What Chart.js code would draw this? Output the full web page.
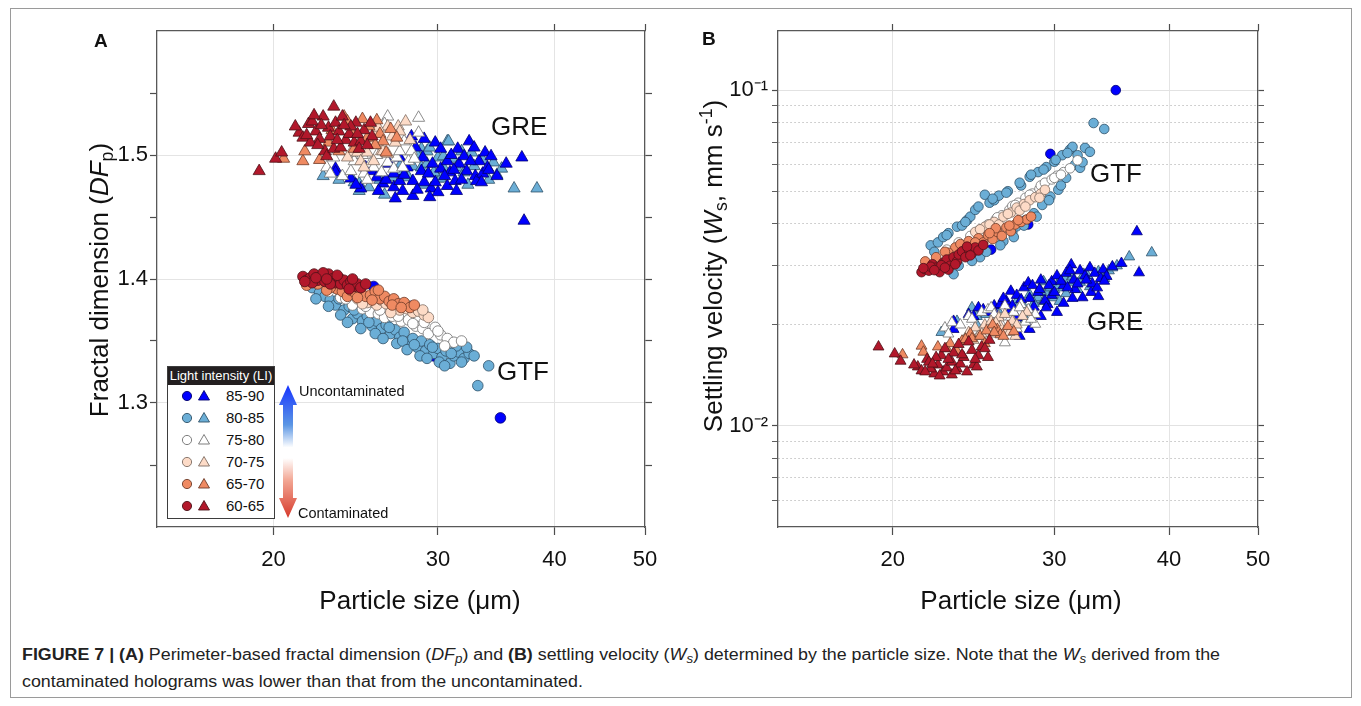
<!DOCTYPE html>
<html>
<head>
<meta charset="utf-8">
<script src="https://cdn.jsdelivr.net/npm/chart.js@4.4.1/dist/chart.umd.min.js"></script>
<style>
  body { margin: 0; background: #fff; font-family: "Liberation Sans", Arial, sans-serif; }
  #fig { position: relative; width: 1361px; height: 706px; overflow: hidden; background: #fff; }
  canvas { position: absolute; }
  .frame { position: absolute; left: 10px; top: 8px; width: 1340px; height: 688px; border: 1px solid #9a9a9a; }
  .t { position: absolute; white-space: nowrap; line-height: 1; color: #111; }
  .rot { transform: translate(-50%, -50%) rotate(-90deg); }
  .ttl { font-size: 26px; }
  .grp { font-size: 26px; }
  .pl { font-size: 19px; font-weight: bold; }
  sub, sup { font-size: 0.68em; line-height: 0; }
  sub { vertical-align: -0.28em; }
  sup { vertical-align: 0.55em; }
  #legend { position: absolute; left: 167px; top: 366px; width: 106px; height: 151px; border: 1px solid #3d3d3d; background: #fff; }
  #legend .hd { height: 18px; background: #231f20; color: #fff; font-size: 13px; line-height: 18px; text-align: center; white-space: nowrap; }
  #legend .lb { position: absolute; left: 58px; font-size: 15px; line-height: 1; color: #111; }
  .cap { position: absolute; left: 22px; font-family: "Liberation Sans Narrow", "Arial Narrow", "Liberation Sans", sans-serif; font-size: 16px; line-height: 1; color: #222; white-space: nowrap; transform-origin: 0 0; }
  .cap sub { font-size: 0.75em; }
</style>
</head>
<body>
<div id="fig">
  <div class="frame"></div>
  <canvas id="chartA" width="700" height="620" style="left:0;top:0"></canvas>
  <canvas id="chartB" width="620" height="620" style="left:690px;top:0"></canvas>

  <div class="t pl" style="left:94px;top:31px">A</div>
  <div class="t pl" style="left:702px;top:29px">B</div>

  <div class="t ttl rot" style="left:99px;top:280px">Fractal dimension (<i>DF</i><sub>p</sub>)</div>
  <div class="t ttl rot" style="left:713px;top:266px">Settling velocity (<i>W</i><sub>s</sub>, mm s<sup>-1</sup>)</div>
  <div class="t ttl" style="left:420px;top:587px;transform:translateX(-50%)">Particle size (μm)</div>
  <div class="t ttl" style="left:1021px;top:587px;transform:translateX(-50%)">Particle size (μm)</div>

  <div class="t grp" style="left:491px;top:113px">GRE</div>
  <div class="t grp" style="left:497px;top:358px">GTF</div>
  <div class="t grp" style="left:1090px;top:160px">GTF</div>
  <div class="t grp" style="left:1087px;top:308px">GRE</div>

  <div id="legend">
    <div class="hd">Light intensity (LI)</div>
    <svg id="legendMarks" width="56" height="134" style="position:absolute;left:0;top:18px"></svg>
  </div>

  <svg width="24" height="140" style="position:absolute;left:276px;top:382px">
    <defs>
      <linearGradient id="arrowGrad" x1="0" y1="0" x2="0" y2="1">
        <stop offset="0" stop-color="#1634ff"/>
        <stop offset="0.3" stop-color="#5b96e4"/>
        <stop offset="0.47" stop-color="#ffffff"/>
        <stop offset="0.55" stop-color="#ffffff"/>
        <stop offset="0.72" stop-color="#f2a592"/>
        <stop offset="1" stop-color="#d6392b"/>
      </linearGradient>
    </defs>
    <polygon fill="url(#arrowGrad)" points="12,3 3,23 7,23 7,116 3,116 12,136 21,116 17,116 17,23 21,23"/>
  </svg>
  <div class="t" style="left:299px;top:384px;font-size:14.5px">Uncontaminated</div>
  <div class="t" style="left:298px;top:506px;font-size:14.5px">Contaminated</div>

  <div class="cap" id="cap1" style="top:647px"><b>FIGURE 7 | (A)</b> Perimeter-based fractal dimension (<i>DF<sub>p</sub></i>) and <b>(B)</b> settling velocity (<i>W<sub>s</sub></i>) determined by the particle size. Note that the <i>W<sub>s</sub></i> derived from the</div>
  <div class="cap" id="cap2" style="top:674px">contaminated holograms was lower than that from the uncontaminated.</div>
</div>

<script>
// ---- data: [particle size (um), DFp, Ws (mm/s)] per light-intensity class ----
// GTF (circles)
const gtf60 = [[21.5,1.402,0.0287],[21.7,1.399,0.0293],[21.9,1.401,0.0290],[22.1,1.404,0.0303],[22.3,1.399,0.0296],
  [22.5,1.402,0.0287],[22.7,1.398,0.0306],[22.9,1.404,0.0313],[23.1,1.400,0.0300],[23.3,1.397,0.0318],[23.5,1.401,0.0309],
  [23.6,1.396,0.0324],[23.8,1.399,0.0331],[24.0,1.395,0.0318],[24.2,1.398,0.0336],[24.4,1.394,0.0327],[24.6,1.396,0.0340],
  [24.8,1.393,0.0333],[22.0,1.397,0.0298],[23.0,1.396,0.0292],[24.1,1.392,0.0342],[22.6,1.405,0.0301],
  [21.6,1.398,0.0295],[22.2,1.401,0.0291],[22.8,1.400,0.0296],[23.4,1.403,0.0303],[24.3,1.400,0.0322],[25.1,1.396,0.0346]];
const gtf65 = [[21.7,1.395,0.0309],[23.4,1.392,0.0340],[23.7,1.390,0.0348],[24.0,1.386,0.0335],[24.2,1.391,0.0355],
  [24.5,1.388,0.0344],[24.8,1.389,0.0362],[25.1,1.386,0.0352],[25.4,1.387,0.0370],[25.7,1.390,0.0360],[26.0,1.384,0.0378],
  [26.3,1.386,0.0368],[26.6,1.382,0.0390],[26.9,1.384,0.0380],[27.2,1.380,0.0398],[27.6,1.381,0.0405],[28.0,1.377,0.0412],
  [28.3,1.379,0.0420],[25.9,1.391,0.0388],[23.0,1.393,0.0328],
  [22.3,1.396,0.0318],[22.8,1.391,0.0330],[24.6,1.385,0.0352],[25.5,1.383,0.0375],[26.8,1.379,0.0395],[27.4,1.377,0.0410]];
const gtf70 = [[24.6,1.384,0.0378],[25.2,1.381,0.0392],[25.8,1.379,0.0405],[26.1,1.383,0.0398],[26.4,1.380,0.0420],
  [26.9,1.377,0.0432],[27.3,1.375,0.0447],[27.5,1.379,0.0438],[27.8,1.376,0.0458],[28.2,1.373,0.0470],[28.6,1.374,0.0480],
  [29.0,1.371,0.0492],[29.3,1.369,0.0505],
  [24.9,1.380,0.0385],[25.5,1.384,0.0398],[26.7,1.373,0.0428],[27.9,1.378,0.0450],[28.9,1.375,0.0478]];
const gtf75 = [[22.9,1.390,0.0335],[23.6,1.385,0.0352],[24.3,1.379,0.0368],[24.9,1.376,0.0385],[25.4,1.373,0.0398],
  [25.9,1.372,0.0412],[26.3,1.369,0.0424],[26.8,1.370,0.0440],[27.0,1.373,0.0452],[27.4,1.366,0.0462],[27.9,1.367,0.0478],
  [28.4,1.362,0.0492],[28.9,1.360,0.0508],[29.0,1.365,0.0520],[29.3,1.356,0.0530],[29.8,1.361,0.0542],[30.2,1.355,0.0556],
  [30.7,1.352,0.0570],[31.2,1.349,0.0585],[31.8,1.350,0.0618],
  [23.9,1.384,0.0345],[25.1,1.378,0.0380],[26.0,1.375,0.0418],[27.2,1.370,0.0455],[28.2,1.364,0.0488],[30.0,1.358,0.0548],[30.5,1.346,0.0560]];
const gtf80 = [[22.0,1.393,0.0345],[22.4,1.389,0.0352],[22.7,1.386,0.0365],[23.0,1.383,0.0375],[23.3,1.379,0.0283],
  [23.5,1.384,0.0392],[23.8,1.375,0.0395],[24.1,1.378,0.0410],[24.3,1.368,0.0420],[24.6,1.372,0.0440],[24.9,1.366,0.0318],
  [25.2,1.370,0.0488],[25.5,1.362,0.0462],[25.8,1.366,0.0470],[26.1,1.360,0.0485],[26.4,1.363,0.0355],[26.7,1.356,0.0500],
  [27.0,1.359,0.0378],[27.3,1.353,0.0393],[27.6,1.357,0.0520],[27.9,1.349,0.0410],[28.2,1.352,0.0552],[28.5,1.345,0.0430],
  [28.8,1.350,0.0570],[29.1,1.342,0.0455],[29.4,1.347,0.0590],[29.7,1.340,0.0482],[30.0,1.344,0.0612],[30.3,1.337,0.0505],
  [30.6,1.342,0.0640],[30.9,1.332,0.0548],[31.2,1.338,0.0665],[31.6,1.341,0.0600],[32.0,1.336,0.0587],[32.4,1.340,0.0673],
  [31.4,1.346,0.0678],[32.8,1.338,0.0655],[33.1,1.314,0.0798],[34.0,1.330,0.0766],
  [22.2,1.384,0.0330],[22.9,1.378,0.0370],[23.6,1.371,0.0300],[24.0,1.365,0.0405],[24.4,1.375,0.0310],[24.8,1.360,0.0450],
  [25.3,1.365,0.0330],[25.7,1.356,0.0475],[26.2,1.352,0.0345],[26.6,1.361,0.0495],[27.1,1.348,0.0365],[27.5,1.350,0.0530],
  [27.8,1.343,0.0395],[28.3,1.347,0.0560],[28.7,1.338,0.0420],[29.2,1.336,0.0580],[29.6,1.345,0.0470],[30.1,1.333,0.0620],
  [30.5,1.330,0.0520],[31.0,1.340,0.0650],[31.8,1.333,0.0640],[32.2,1.345,0.0610]];
const gtf85 = [[25.6,1.394,0.0335],[28.1,1.378,0.0398],[29.7,1.338,0.0646],[35.0,1.288,0.1000]];

// GRE (triangles)
const gre60 = [[19.3,1.487,0.0172],[20.1,1.497,0.0164],[20.4,1.502,0.0156],[21.3,1.518,0.0150],[21.5,1.514,0.0146],
  [21.8,1.525,0.0158],[22.2,1.519,0.0143],[22.4,1.513,0.0152],[22.6,1.531,0.0162],[22.7,1.503,0.0145],[22.8,1.499,0.0170],
  [22.9,1.522,0.0149],[23.2,1.539,0.0155],[23.2,1.505,0.0142],[23.3,1.526,0.0165],[23.5,1.519,0.0148],[23.6,1.506,0.0175],
  [23.7,1.531,0.0153],[23.9,1.512,0.0160],[24.1,1.517,0.0145],[24.4,1.510,0.0168],[24.5,1.526,0.0152],[24.8,1.511,0.0162],
  [25.0,1.520,0.0172],[25.4,1.526,0.0160],[25.5,1.515,0.0180],[21.9,1.510,0.0155],[22.0,1.527,0.0148],[23.0,1.515,0.0158],
  [24.2,1.523,0.0178],[24.7,1.505,0.0150],[21.1,1.523,0.0152],
  [21.7,1.516,0.0145],[22.3,1.508,0.0160],[22.5,1.524,0.0141],[23.4,1.512,0.0146],[23.8,1.524,0.0163],[24.6,1.517,0.0158],
  [25.2,1.508,0.0170],[22.1,1.532,0.0153]];
const gre65 = [[20.5,1.497,0.0163],[21.5,1.495,0.0173],[21.6,1.503,0.0166],[23.5,1.503,0.0167],[23.8,1.531,0.0179],
  [24.3,1.517,0.0188],[24.4,1.505,0.0182],[24.9,1.529,0.0185],[25.2,1.514,0.0176],[25.3,1.523,0.0192],[26.0,1.517,0.0194],
  [26.2,1.511,0.0187],[26.7,1.521,0.0198],[27.1,1.514,0.0191],[22.9,1.510,0.0170],[25.7,1.508,0.0200],
  [22.4,1.496,0.0172],[23.1,1.520,0.0176],[24.0,1.527,0.0181],[25.8,1.528,0.0190],[26.4,1.502,0.0185]];
const gre70 = [[24.2,1.502,0.0190],[24.6,1.502,0.0196],[24.8,1.495,0.0185],[25.2,1.502,0.0200],[25.6,1.510,0.0193],
  [25.6,1.495,0.0205],[25.7,1.517,0.0188],[26.1,1.503,0.0210],[26.2,1.503,0.0198],[26.5,1.523,0.0192],[26.5,1.501,0.0215],
  [27.0,1.510,0.0205],[27.2,1.523,0.0185],[27.3,1.519,0.0200],[28.0,1.512,0.0218],[24.0,1.498,0.0182],
  [24.5,1.510,0.0180],[25.9,1.522,0.0203],[26.8,1.515,0.0190],[27.7,1.527,0.0212],[25.0,1.490,0.0188]];
const gre75 = [[22.8,1.490,0.0196],[23.2,1.498,0.0203],[23.7,1.483,0.0200],[24.2,1.487,0.0212],[24.4,1.495,0.0208],
  [25.0,1.485,0.0218],[25.4,1.493,0.0222],[25.6,1.490,0.0225],[26.1,1.486,0.0212],[26.5,1.531,0.0177],[26.5,1.494,0.0228],
  [26.9,1.489,0.0211],[27.1,1.498,0.0218],[27.3,1.503,0.0195],[27.6,1.511,0.0230],[27.9,1.495,0.0204],[28.1,1.503,0.0222],
  [28.6,1.518,0.0201],[28.6,1.530,0.0215],[24.9,1.500,0.0190],
  [23.0,1.485,0.0188],[25.8,1.500,0.0215],[26.3,1.525,0.0200],[27.5,1.490,0.0225],[28.3,1.497,0.0208],[25.2,1.480,0.0195]];
const gre80 = [[22.6,1.483,0.0190],[24.4,1.478,0.0225],[24.7,1.471,0.0212],[24.7,1.477,0.0200],[26.8,1.482,0.0218],
  [27.3,1.487,0.0235],[27.4,1.493,0.0227],[27.7,1.483,0.0230],[27.9,1.482,0.0208],[28.2,1.491,0.0246],[28.8,1.490,0.0238],
  [28.8,1.505,0.0241],[29.2,1.503,0.0235],[29.2,1.493,0.0269],[29.4,1.506,0.0250],[30.0,1.498,0.0241],[30.0,1.481,0.0255],
  [30.2,1.481,0.0262],[30.4,1.490,0.0235],[30.4,1.499,0.0270],[30.7,1.511,0.0258],[30.8,1.511,0.0275],[30.9,1.498,0.0248],
  [31.1,1.497,0.0268],[32.0,1.486,0.0268],[32.6,1.502,0.0280],[32.8,1.491,0.0260],[34.4,1.494,0.0290],[34.7,1.484,0.0296],
  [35.1,1.489,0.0300],[36.2,1.473,0.0319],[38.3,1.473,0.0328],
  [23.5,1.480,0.0205],[25.3,1.474,0.0215],[26.0,1.480,0.0222],[28.5,1.500,0.0232],[29.7,1.486,0.0258],[31.4,1.490,0.0278],
  [31.8,1.503,0.0255],[33.5,1.496,0.0288],[34.0,1.480,0.0275],[26.3,1.468,0.0230],[29.0,1.476,0.0252],[32.3,1.476,0.0283]];
const gre85 = [[23.3,1.489,0.0194],[23.3,1.486,0.0205],[24.2,1.481,0.0215],[24.8,1.473,0.0225],[25.5,1.487,0.0218],
  [25.8,1.482,0.0228],[26.2,1.477,0.0230],[26.6,1.493,0.0235],[26.9,1.474,0.0252],[26.9,1.485,0.0222],[27.3,1.498,0.0245],
  [27.3,1.479,0.0210],[27.5,1.471,0.0185],[27.8,1.490,0.0258],[28.1,1.515,0.0267],[28.2,1.467,0.0194],[28.2,1.479,0.0240],
  [28.4,1.506,0.0262],[28.8,1.487,0.0250],[29.0,1.513,0.0272],[29.0,1.478,0.0212],[29.5,1.473,0.0230],[29.8,1.510,0.0269],
  [29.8,1.478,0.0245],[30.2,1.505,0.0280],[30.2,1.489,0.0218],[30.7,1.495,0.0262],[30.7,1.475,0.0232],[30.9,1.486,0.0285],
  [31.3,1.479,0.0302],[31.4,1.471,0.0240],[31.5,1.505,0.0272],[31.6,1.493,0.0255],[32.0,1.499,0.0290],[32.2,1.487,0.0241],
  [32.4,1.511,0.0280],[32.8,1.506,0.0296],[32.9,1.483,0.0250],[33.0,1.479,0.0265],[33.2,1.495,0.0285],[33.5,1.485,0.0243],
  [33.7,1.502,0.0275],[33.9,1.490,0.0292],[34.2,1.499,0.0279],[34.7,1.483,0.0298],[36.9,1.498,0.0379],[37.1,1.447,0.0286],
  [24.5,1.476,0.0212],[25.1,1.490,0.0222],[25.9,1.471,0.0215],[26.4,1.480,0.0240],[27.0,1.465,0.0228],[27.6,1.484,0.0238],
  [28.5,1.472,0.0226],[28.9,1.498,0.0255],[29.3,1.485,0.0236],[29.6,1.493,0.0262],[30.0,1.470,0.0250],[30.5,1.483,0.0270],
  [31.0,1.500,0.0258],[31.8,1.480,0.0265],[32.5,1.495,0.0272],[33.4,1.478,0.0258],[34.0,1.488,0.0270],[35.5,1.493,0.0305],
  [29.4,1.466,0.0225],[31.2,1.488,0.0290]];

const classLabels = ['85-90', '80-85', '75-80', '70-75', '65-70', '60-65'];

const xTicks = [20, 30, 40, 50];
const dfTicks = [1.25, 1.3, 1.35, 1.4, 1.45, 1.5, 1.55];
const dfLabeled = [1.3, 1.4, 1.5];
const wsTicks = [0.006, 0.007, 0.008, 0.009, 0.01, 0.02, 0.03, 0.04, 0.05, 0.06, 0.07, 0.08, 0.09, 0.1];
const wsLabeled = [0.01, 0.1];
const wsLabelText = ['10\u207B\u00B2', '10\u207B\u00B9'];

// ---- styles ----
const FONT = '"Liberation Sans", Arial, sans-serif';
// index 0 = 60-65 ... 5 = 85-90
const fillCol = ['#b2182b', '#ef8a62', '#fddbc7', '#ffffff', '#6baed6', '#0000ff'];
const edgeCol = ['#4d1218', '#6e3b28', '#7d6c62', '#707070', '#2f5168', '#000070'];
const NONE = 'rgba(0,0,0,0)';
// draw order (first = on top): red classes on top, blue triangles above light blue
const triOrder = [0, 1, 2, 3, 5, 4];
const dotOrder = [0, 1, 2, 3, 4, 5];

function dataset(arr, yi, i, style, r) {
  return {
    data: arr.map(p => ({ x: p[0], y: p[yi] })),
    pointStyle: style,
    pointRadius: r,
    backgroundColor: fillCol[i],
    borderColor: edgeCol[i],
    borderWidth: 0.8,
    showLine: false
  };
}

function scale(o) {
  const major = o.major || (() => true);
  return {
    type: o.type, position: o.pos, min: o.min, max: o.max,
    afterBuildTicks: a => { a.ticks = o.ticks.map(v => ({ value: v })); },
    afterFit: a => { if (o.pos === 'top' || o.pos === 'bottom') a.height = o.size; else a.width = o.size; },
    grid: {
      drawOnChartArea: !!o.grid,
      drawTicks: true,
      tickLength: o.tl,
      tickColor: '#4d4d4d',
      tickWidth: c => (c.tick && !major(c.tick.value)) ? 0.9 : 1.2,
      color: c => (o.grid && c.tick) ? o.grid(c.tick.value) : NONE,
      lineWidth: 1
    },
    border: {
      display: true, color: '#585858', width: 1.3,
      dash: c => (c.tick && o.dotted && o.dotted(c.tick.value)) ? [1.5, 2.5] : []
    },
    ticks: {
      display: !!o.cb, padding: o.pad || 0, autoSkip: false, maxRotation: 0,
      color: '#111', font: { family: FONT, size: 22 },
      callback: o.cb || (() => '')
    }
  };
}

const baseOptions = {
  responsive: false,
  animation: false,
  events: [],
  plugins: { legend: { display: false }, tooltip: { enabled: false } },
  layout: { padding: { top: 23, left: 0, right: 0, bottom: 0 } }
};

const xLabel = v => xTicks.includes(v) ? String(v) : '';
const xGrid = v => v < 50 ? '#e4e4e4' : NONE;

const gtfSets = [gtf60, gtf65, gtf70, gtf75, gtf80, gtf85];
const greSets = [gre60, gre65, gre70, gre75, gre80, gre85];

// ---- panel A ----
new Chart(document.getElementById('chartA'), {
  type: 'scatter',
  data: {
    datasets: [
      ...triOrder.map(i => dataset(greSets[i], 1, i, 'triangle', 7)),
      ...dotOrder.map(i => dataset(gtfSets[i], 1, i, 'circle', 5.3))
    ]
  },
  options: Object.assign({}, baseOptions, {
    scales: {
      x: scale({ type: 'logarithmic', pos: 'bottom', min: 15, max: 50, ticks: xTicks, size: 93, tl: 8, pad: 12, cb: xLabel, grid: xGrid }),
      x2: scale({ type: 'logarithmic', pos: 'top', min: 15, max: 50, ticks: xTicks, size: 8, tl: 7 }),
      y: scale({ type: 'linear', pos: 'left', min: 1.2, max: 1.6, ticks: dfTicks, size: 157, tl: 7, pad: 2,
        cb: v => dfLabeled.includes(v) ? v.toFixed(1) : '',
        grid: v => dfLabeled.includes(v) ? '#e4e4e4' : NONE }),
      y2: scale({ type: 'linear', pos: 'right', min: 1.2, max: 1.6, ticks: dfTicks, size: 55, tl: 7 })
    }
  })
});

// ---- panel B ----
const wsMajor = v => wsLabeled.includes(v);
new Chart(document.getElementById('chartB'), {
  type: 'scatter',
  data: {
    datasets: [
      ...dotOrder.map(i => dataset(gtfSets[i], 2, i, 'circle', 4.8)),
      ...triOrder.map(i => dataset(greSets[i], 2, i, 'triangle', 6.3))
    ]
  },
  options: Object.assign({}, baseOptions, {
    scales: {
      x: scale({ type: 'logarithmic', pos: 'bottom', min: 15, max: 50, ticks: xTicks, size: 93, tl: 8, pad: 12, cb: xLabel, grid: xGrid }),
      x2: scale({ type: 'logarithmic', pos: 'top', min: 15, max: 50, ticks: xTicks, size: 8, tl: 7 }),
      y: scale({ type: 'logarithmic', pos: 'left', min: 0.005, max: 0.15, ticks: wsTicks, size: 88, tl: 6, pad: 4,
        major: wsMajor,
        cb: v => { const k = wsLabeled.indexOf(v); return k >= 0 ? wsLabelText[k] : ''; },
        grid: v => wsMajor(v) ? '#e2e2e2' : '#c2c2c2',
        dotted: v => !wsMajor(v) }),
      y2: scale({ type: 'logarithmic', pos: 'right', min: 0.005, max: 0.15, ticks: wsTicks, size: 52, tl: 6, major: wsMajor })
    }
  })
});

// ---- legend markers ----
(function () {
  const svg = document.getElementById('legendMarks');
  const legend = document.getElementById('legend');
  const ns = 'http://www.w3.org/2000/svg';
  // classLabels run 85-90 .. 60-65 top to bottom; colour index is reversed
  classLabels.forEach((lab, row) => {
    const ci = 5 - row;
    const cy = 11 + row * 22;
    const c = document.createElementNS(ns, 'circle');
    c.setAttribute('cx', 19); c.setAttribute('cy', cy); c.setAttribute('r', 4.6);
    c.setAttribute('fill', fillCol[ci]); c.setAttribute('stroke', edgeCol[ci]); c.setAttribute('stroke-width', 0.9);
    svg.appendChild(c);
    const t = document.createElementNS(ns, 'polygon');
    t.setAttribute('points', `36,${cy - 5.5} 30.5,${cy + 4} 41.5,${cy + 4}`);
    t.setAttribute('fill', fillCol[ci]); t.setAttribute('stroke', edgeCol[ci]); t.setAttribute('stroke-width', 0.9);
    svg.appendChild(t);
    const d = document.createElement('div');
    d.className = 'lb';
    d.style.top = (18 + cy - 8) + 'px';
    d.textContent = lab;
    legend.appendChild(d);
  });
})();

// fit caption width to the reference line length
(function () {
  const c1 = document.getElementById('cap1'), c2 = document.getElementById('cap2');
  const k = 1198 / c1.getBoundingClientRect().width;
  c1.style.transform = c2.style.transform = `scaleX(${k})`;
})();
</script>
</body>
</html>
